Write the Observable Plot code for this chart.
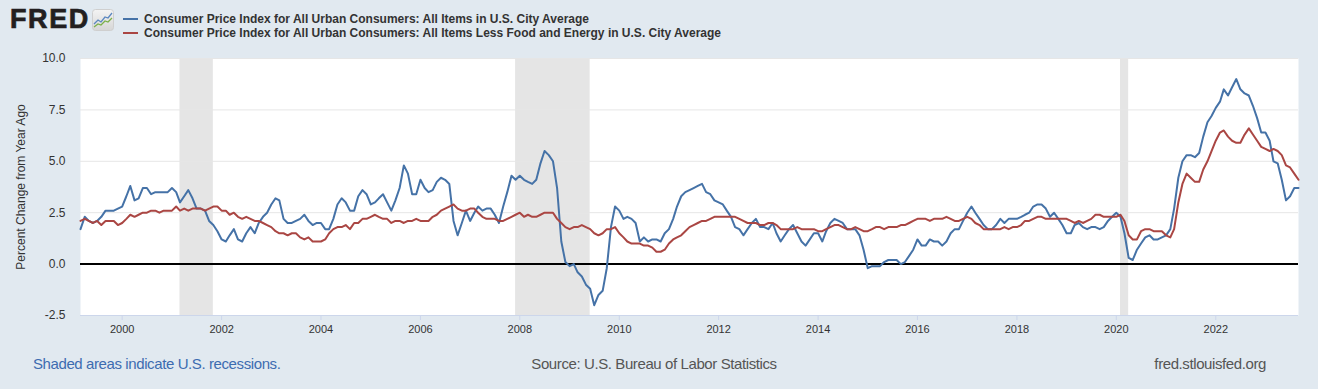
<!DOCTYPE html>
<html>
<head>
<meta charset="utf-8">
<script src="https://cdn.jsdelivr.net/npm/d3@7"></script>
<script src="https://cdn.jsdelivr.net/npm/@observablehq/plot@0.6"></script>
<style>
  html, body { margin: 0; padding: 0; background: #e1e9f0; }
  body { width: 1318px; height: 389px; position: relative; overflow: hidden;
         font-family: "Liberation Sans", Arial, Helvetica, sans-serif; }
  #logo { position: absolute; left: 10px; top: 4px; font-size: 27px; font-weight: 700;
          color: #231f20; letter-spacing: 1.6px; -webkit-text-stroke: 0.7px #231f20; }
  #icon { position: absolute; left: 92px; top: 9px; }
  .leg { position: absolute; left: 123px; height: 14px; line-height: 14px;
         font-size: 12px; font-weight: 700; color: #333; white-space: nowrap; }
  .leg .sw { display: inline-block; width: 15px; height: 2px; vertical-align: middle;
             margin-right: 6px; position: relative; top: -1px; }
  #chart { position: absolute; left: 0; top: 45px; }
  .foot { position: absolute; top: 355px; font-size: 15px; line-height: 18px; letter-spacing: -0.4px; white-space: nowrap; }
</style>
</head>
<body>
<div id="logo">FRED</div>
<svg id="icon" width="22" height="22" viewBox="0 0 22 22">
  <defs><linearGradient id="ig" x1="0" y1="0" x2="0" y2="1">
    <stop offset="0" stop-color="#f4f4f4"/><stop offset="1" stop-color="#d6d6d6"/></linearGradient></defs>
  <rect x="0.5" y="0.5" width="21" height="21" rx="3" fill="url(#ig)" stroke="#cfcfcf"/>
  <polyline points="2,15 6,11 9,13 13,8 16,9 20,4" fill="none" stroke="#5b87c0" stroke-width="1.3"/>
  <polyline points="2,18 6,15 9,16 13,12 16,13 20,9" fill="none" stroke="#7bb04a" stroke-width="1.3"/>
</svg>
<div class="leg" style="top:12px"><span class="sw" style="background:#4572a7"></span>Consumer Price Index for All Urban Consumers: All Items in U.S. City Average</div>
<div class="leg" style="top:26px"><span class="sw" style="background:#aa4643"></span>Consumer Price Index for All Urban Consumers: All Items Less Food and Energy in U.S. City Average</div>
<div id="chart"></div>
<div class="foot" style="left:33px;color:#3d6cb0">Shaded areas indicate U.S. recessions.</div>
<div class="foot" style="left:0;width:1308px;text-align:center;color:#555">Source: U.S. Bureau of Labor Statistics</div>
<div class="foot" style="right:52px;color:#555">fred.stlouisfed.org</div>
<script>
// Monthly data, March 1999 through September 2023 (percent change from year ago)
const startMonth = "1999-03-01";
const endMonth = "2023-09-01";

const allItems = [
  // 1999 Mar-Dec
  1.7, 2.3, 2.1, 2.0, 2.1, 2.3, 2.6, 2.6, 2.6, 2.7,
  // 2000
  2.8, 3.3, 3.8, 3.1, 3.2, 3.7, 3.7, 3.4, 3.5, 3.5, 3.5, 3.5,
  // 2001
  3.7, 3.5, 3.0, 3.3, 3.6, 3.2, 2.7, 2.7, 2.6, 2.1, 1.9, 1.6,
  // 2002
  1.2, 1.1, 1.4, 1.7, 1.2, 1.1, 1.5, 1.8, 1.5, 2.0, 2.3, 2.5,
  // 2003
  2.9, 3.2, 3.1, 2.2, 2.0, 2.0, 2.1, 2.2, 2.4, 2.1, 1.9, 2.0,
  // 2004
  2.0, 1.7, 1.7, 2.2, 2.9, 3.2, 3.0, 2.6, 2.6, 3.3, 3.6, 3.4,
  // 2005
  2.9, 3.0, 3.2, 3.4, 3.0, 2.6, 3.1, 3.7, 4.8, 4.4, 3.4, 3.4,
  // 2006
  4.1, 3.7, 3.5, 3.6, 4.0, 4.2, 4.1, 3.9, 2.1, 1.4, 2.0, 2.6,
  // 2007
  2.1, 2.5, 2.8, 2.6, 2.7, 2.7, 2.4, 2.0, 2.8, 3.5, 4.3, 4.1,
  // 2008
  4.3, 4.1, 4.0, 3.9, 4.1, 4.9, 5.5, 5.3, 5.0, 3.7, 1.1, 0.1,
  // 2009
  -0.1, 0.0, -0.4, -0.6, -1.0, -1.2, -2.0, -1.5, -1.3, -0.2, 1.8, 2.8,
  // 2010
  2.6, 2.2, 2.3, 2.2, 2.0, 1.1, 1.3, 1.1, 1.2, 1.2, 1.1, 1.5,
  // 2011
  1.7, 2.2, 2.8, 3.3, 3.5, 3.6, 3.7, 3.8, 3.9, 3.5, 3.4, 3.1,
  // 2012
  3.0, 2.9, 2.6, 2.3, 1.8, 1.7, 1.4, 1.7, 2.0, 2.2, 1.8, 1.8,
  // 2013
  1.7, 2.0, 1.5, 1.1, 1.4, 1.7, 1.9, 1.5, 1.1, 0.9, 1.2, 1.5,
  // 2014
  1.5, 1.1, 1.6, 2.0, 2.2, 2.1, 2.0, 1.7, 1.7, 1.7, 1.4, 0.7,
  // 2015
  -0.2, -0.1, -0.1, -0.1, 0.1, 0.2, 0.2, 0.2, 0.0, 0.1, 0.4, 0.7,
  // 2016
  1.2, 0.9, 0.9, 1.2, 1.1, 1.1, 0.9, 1.1, 1.5, 1.7, 1.7, 2.1,
  // 2017
  2.5, 2.8, 2.5, 2.2, 1.9, 1.7, 1.7, 1.9, 2.2, 2.0, 2.2, 2.2,
  // 2018
  2.2, 2.3, 2.4, 2.5, 2.8, 2.9, 2.9, 2.7, 2.3, 2.5, 2.2, 1.9,
  // 2019
  1.5, 1.5, 1.9, 2.0, 1.8, 1.7, 1.8, 1.8, 1.7, 1.8, 2.1, 2.3,
  // 2020
  2.5, 2.3, 1.5, 0.3, 0.2, 0.7, 1.0, 1.3, 1.4, 1.2, 1.2, 1.3,
  // 2021
  1.4, 1.7, 2.7, 4.2, 5.0, 5.3, 5.3, 5.2, 5.4, 6.2, 6.9, 7.2,
  // 2022
  7.6, 7.9, 8.5, 8.2, 8.6, 9.0, 8.5, 8.3, 8.2, 7.7, 7.1, 6.4,
  // 2023 Jan-Sep
  6.4, 6.0, 5.0, 4.9, 4.1, 3.1, 3.3, 3.7, 3.7
];

const coreItems = [
  // 1999 Mar-Dec
  2.1, 2.2, 2.1, 2.0, 2.1, 1.9, 2.1, 2.1, 2.1, 1.9,
  // 2000
  2.0, 2.2, 2.4, 2.3, 2.4, 2.5, 2.5, 2.6, 2.6, 2.5, 2.6, 2.6,
  // 2001
  2.6, 2.8, 2.6, 2.7, 2.6, 2.7, 2.7, 2.7, 2.6, 2.7, 2.8, 2.8,
  // 2002
  2.6, 2.6, 2.4, 2.5, 2.3, 2.2, 2.3, 2.2, 2.1, 2.1, 2.0, 1.9,
  // 2003
  1.8, 1.6, 1.5, 1.5, 1.4, 1.5, 1.5, 1.3, 1.2, 1.3, 1.1, 1.1,
  // 2004
  1.1, 1.2, 1.5, 1.7, 1.8, 1.8, 1.9, 1.7, 2.0, 2.0, 2.2, 2.2,
  // 2005
  2.3, 2.4, 2.3, 2.2, 2.2, 2.0, 2.1, 2.1, 2.0, 2.1, 2.1, 2.2,
  // 2006
  2.1, 2.1, 2.1, 2.3, 2.4, 2.6, 2.7, 2.8, 2.9, 2.7, 2.6, 2.6,
  // 2007
  2.7, 2.7, 2.5, 2.3, 2.2, 2.2, 2.2, 2.1, 2.1, 2.2, 2.3, 2.4,
  // 2008
  2.5, 2.3, 2.4, 2.3, 2.3, 2.4, 2.5, 2.5, 2.5, 2.2, 2.0, 1.8,
  // 2009
  1.7, 1.8, 1.8, 1.9, 1.8, 1.7, 1.5, 1.4, 1.5, 1.7, 1.7, 1.8,
  // 2010
  1.5, 1.3, 1.1, 1.0, 1.0, 1.0, 0.9, 0.9, 0.8, 0.6, 0.6, 0.7,
  // 2011
  1.0, 1.2, 1.3, 1.4, 1.6, 1.8, 1.9, 2.0, 2.1, 2.1, 2.2, 2.3,
  // 2012
  2.3, 2.3, 2.3, 2.3, 2.3, 2.2, 2.1, 2.0, 2.0, 2.0, 1.9, 1.9,
  // 2013
  2.0, 2.0, 1.9, 1.7, 1.7, 1.7, 1.7, 1.8, 1.7, 1.7, 1.7, 1.7,
  // 2014
  1.6, 1.6, 1.7, 1.8, 1.9, 1.9, 1.8, 1.7, 1.7, 1.8, 1.7, 1.6,
  // 2015
  1.6, 1.7, 1.8, 1.8, 1.7, 1.8, 1.8, 1.8, 1.9, 1.9, 2.0, 2.1,
  // 2016
  2.2, 2.2, 2.2, 2.1, 2.2, 2.2, 2.2, 2.3, 2.2, 2.1, 2.1, 2.2,
  // 2017
  2.3, 2.2, 2.0, 1.9, 1.7, 1.7, 1.7, 1.7, 1.7, 1.8, 1.7, 1.8,
  // 2018
  1.8, 1.9, 2.1, 2.1, 2.2, 2.3, 2.3, 2.2, 2.2, 2.2, 2.2, 2.2,
  // 2019
  2.2, 2.1, 2.0, 2.1, 2.0, 2.1, 2.2, 2.4, 2.4, 2.3, 2.3, 2.3,
  // 2020
  2.3, 2.4, 2.1, 1.4, 1.2, 1.2, 1.6, 1.7, 1.7, 1.6, 1.6, 1.6,
  // 2021
  1.4, 1.3, 1.7, 3.0, 3.9, 4.4, 4.2, 4.0, 4.0, 4.6, 5.0, 5.5,
  // 2022
  6.0, 6.4, 6.5, 6.2, 6.0, 5.9, 5.9, 6.3, 6.6, 6.3, 6.0, 5.7,
  // 2023 Jan-Sep
  5.6, 5.5, 5.6, 5.5, 5.3, 4.8, 4.7, 4.4, 4.1
];

const recessionStarts = ["2001-03-01", "2007-12-01", "2020-02-01"];
const recessionEnds   = ["2001-11-01", "2009-06-01", "2020-04-01"];

const xTickYears = [2000, 2002, 2004, 2006, 2008, 2010, 2012, 2014, 2016, 2018, 2020, 2022];
const yTicks = [-2.5, 0, 2.5, 5, 7.5, 10];
const yLabel = "Percent Change from Year Ago";

const blue = "#4572a7";
const red = "#aa4643";

const start = new Date(startMonth);
const end = new Date(endMonth);
const allData = allItems.map((v, i) => ({date: d3.utcMonth.offset(start, i), value: v}));
const coreData = coreItems.map((v, i) => ({date: d3.utcMonth.offset(start, i), value: v}));
const recessions = recessionStarts.map((s, i) => ({start: new Date(s), end: new Date(recessionEnds[i])}));
const xTicks = xTickYears.map(y => new Date(Date.UTC(y, 0, 1)));

const chart = Plot.plot({
  width: 1318,
  height: 300,
  marginLeft: 80,
  marginRight: 20,
  marginTop: 13,
  marginBottom: 30,
  style: {background: "transparent", fontFamily: "'Liberation Sans', Arial, sans-serif", fontSize: "11px", color: "#333"},
  x: {type: "utc", domain: [start, end]},
  y: {domain: [-2.5, 10]},
  marks: [
    Plot.frame({fill: "white", stroke: "none"}),
    Plot.rect(recessions, {x1: "start", x2: "end", fill: "#e5e5e5"}),
    Plot.gridY(yTicks, {stroke: "#e6e6e6", strokeOpacity: 1}),
    Plot.ruleY([yTicks[0]], {stroke: "#ccd6eb"}),
    Plot.ruleY([0], {stroke: "black", strokeWidth: 2}),
    Plot.line(allData, {x: "date", y: "value", stroke: blue, strokeWidth: 2}),
    Plot.line(coreData, {x: "date", y: "value", stroke: red, strokeWidth: 2}),
    Plot.axisX({ticks: xTicks, tickFormat: d3.utcFormat("%Y"), tickSize: 5, tickPadding: 5, stroke: "#ccd6eb", fill: "#333", label: null}),
    Plot.axisY({ticks: yTicks, tickSize: 0, tickPadding: 15, tickFormat: d => d.toFixed(1), fill: "#333",
                label: yLabel, labelAnchor: "center", labelOffset: 64, labelArrow: "none", fontSize: 12})
  ]
});
document.getElementById("chart").appendChild(chart);
</script>
</body>
</html>
